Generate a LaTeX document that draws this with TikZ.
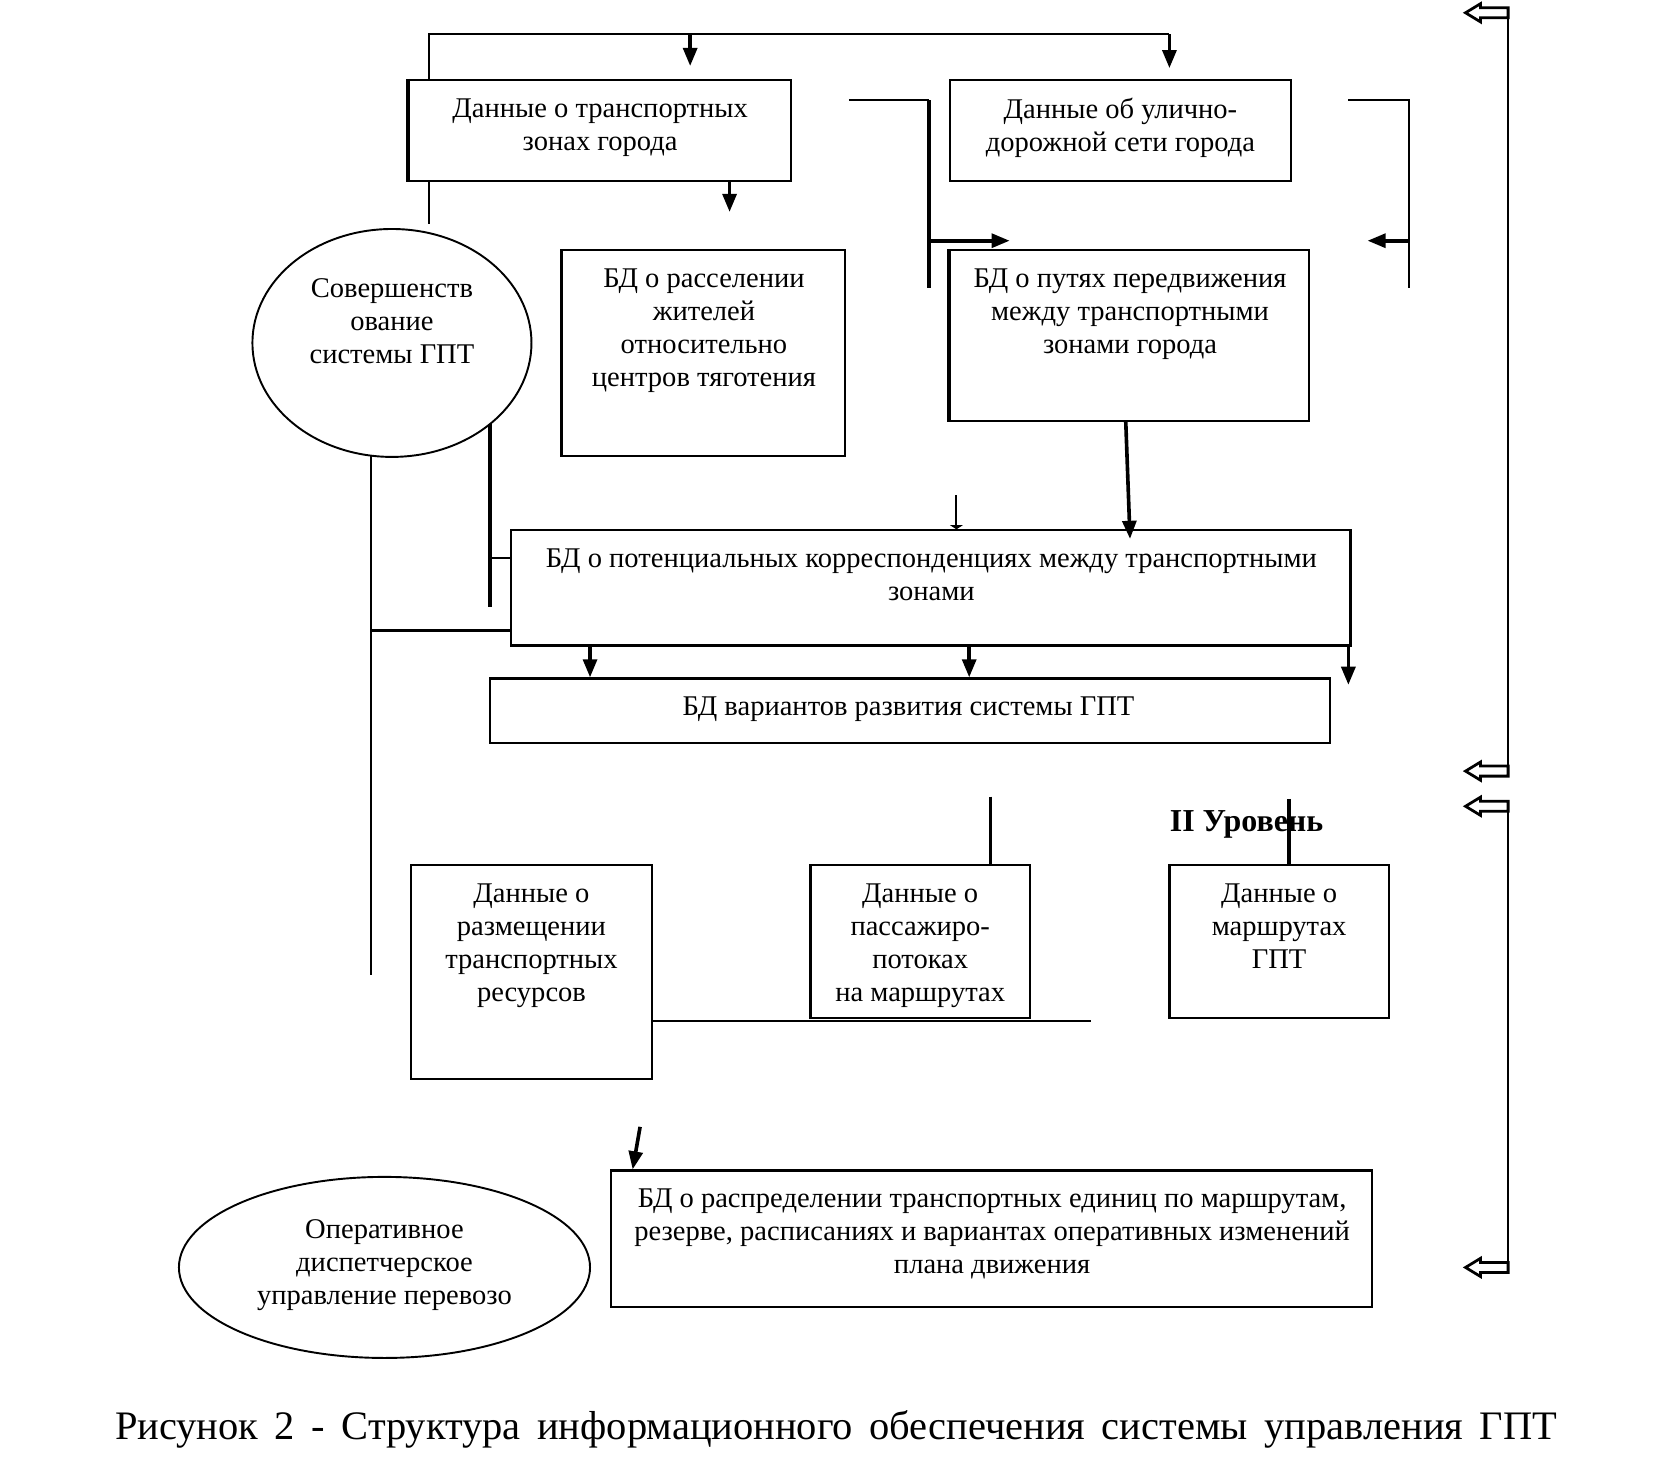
\documentclass[tikz,border=0pt]{standalone}
\usepackage{fontspec}
\setmainfont{Liberation Serif}
\usetikzlibrary{arrows.meta,shapes.geometric,calc}
\begin{document}
\begin{tikzpicture}[x=0.5pt,y=-0.5pt,
  ln/.style={line width=1pt},
  thk/.style={line width=1.7pt},
  arr/.style={line width=1.7pt,-{Triangle[length=8.5pt,width=6.5pt]}},
  boxn/.style={draw,line width=1pt,inner sep=0pt,rectangle},
  ell/.style={draw,line width=0.9pt,ellipse,inner sep=0pt},
  txt/.style={align=center,inner sep=0pt,anchor=north,font=\fontsize{13.4}{15.5}\selectfont},
  harrow/.pic={\draw[line width=1.3pt,line join=miter,fill=white]
     (0,-4.7) -- (-26,-4.7) -- (-26,-8.5) -- (-40,0) -- (-26,8.5) -- (-26,4.7) -- (0,4.7) -- cycle;}
]
\useasboundingbox (0,0) rectangle (1568,1383);

% boxes
\node[boxn,minimum width=179.5pt,minimum height=47.5pt] (b1) at (563.5,122.5) {};
\node[boxn,minimum width=160pt,minimum height=47.5pt] (b2) at (1052,122.5) {};
\node[boxn,minimum width=132.5pt,minimum height=96.5pt] (b3) at (660.5,331.5) {};
\node[boxn,minimum width=168.5pt,minimum height=80pt] (b4) at (1060.5,315) {};
\node[boxn,minimum width=394pt,minimum height=54pt] (b5) at (874,552) {};
\node[boxn,minimum width=394.5pt,minimum height=30.5pt] (b6) at (854.5,667.5) {};
\node[boxn,minimum width=113pt,minimum height=100.5pt] (b7) at (499,912.5) {};
\node[boxn,minimum width=103pt,minimum height=72pt] (b8) at (864,884) {};
\node[boxn,minimum width=103pt,minimum height=72pt] (b9) at (1201,884) {};
\node[boxn,minimum width=357pt,minimum height=64pt] (b10) at (931,1163) {};
\node[ell,minimum width=131pt,minimum height=107pt] (e1) at (368,322) {};
\node[ell,minimum width=193pt,minimum height=85pt] (e2) at (361,1190) {};

% thicker left edges
\draw[line width=1.6pt] (b1.north west) -- (b1.south west);
\draw[line width=1.6pt] (b3.north west) -- (b3.south west);
\draw[line width=1.6pt] (b4.north west) -- (b4.south west);

% texts
\node[txt] (t1) at (563.5,92) {Данные о транспортных\\зонах города};
\node[txt] (t2) at (1052,92) {Данные об улично-\\дорожной сети города};
\node[txt] (t3) at (661,252) {БД о расселении\\жителей\\относительно\\центров тяготения};
\node[txt] (t4) at (1061,252) {БД о путях передвижения\\между транспортными\\зонами города};
\node[txt] (t5) at (874.5,515) {БД о потенциальных корреспонденциях между транспортными\\зонами};
\node[txt] (t6) at (853,654) {БД вариантов развития системы ГПТ};
\node[txt] (t7) at (499,829) {Данные о\\размещении\\транспортных\\ресурсов};
\node[txt] (t8) at (864,829) {Данные о\\пассажиро-\\потоках\\на маршрутах};
\node[txt] (t9) at (1201,829) {Данные о\\маршрутах\\ГПТ};
\node[txt] (t10) at (931.5,1116) {БД о распределении транспортных единиц по маршрутам,\\резерве, расписаниях и вариантах оперативных изменений\\плана движения};
\node[txt] (te1) at (368,261) {Совершенств\\ование\\системы ГПТ};
\node[txt] (te2) at (361,1145) {Оперативное\\диспетчерское\\управление перевозо};
\node[anchor=west,inner sep=0pt,font=\bfseries\fontsize{15}{17}\selectfont] (lvl) at (1098,774) {II Уровень};
\node[inner sep=0pt,font=\fontsize{19}{22}\selectfont] (cap) at (785,1342)
  {\makebox[677pt][s]{Рисунок 2 - Структура информационного обеспечения системы управления ГПТ}};

% x positions
\foreach \xx in {348,403,460,554,648,685,872,898,910,930,1057,1098,1210,1266,1323}
  \coordinate (x\xx) at (\xx,0);
\coordinate (topR) at (1098,32);

% connectors
\draw[ln] (b1.north -| x403) |- (topR);
\draw[arr,shorten >=6pt] (x648 |- topR) -- (b1.north -| x648);
\draw[arr,shorten >=5pt] (topR) -- (b2.north -| x1098);
\draw[ln,shorten >=2pt] (b1.south -| x403) -- (e1.north -| x403);
\draw[arr] (b1.south -| x685) -- ++(0,28);

\coordinate (f1) at (797,94);
\coordinate (f2) at (872,270);
\draw[ln] (f1) -- (f1 -| f2);
\draw[thk] (f1 -| f2) -- (f2);
\coordinate (j1) at (872,226);
\coordinate (j1e) at (948,226);
\draw[arr] (j1) -- (j1e);
\coordinate (g1) at (1266,94);
\coordinate (g2) at (1323,270);
\draw[ln] (g1) -| (g2);
\coordinate (j2) at (1323,226);
\coordinate (j2e) at (1284,226);
\draw[arr] (j2) -- (j2e);

\coordinate (k1) at (460,398);
\coordinate (k2) at (460,570);
\draw[thk] (k1) -- (k2);
\draw[ln] (x460 |- 0,524) -- (b5.west |- 0,524);
\coordinate (m1) at (348,428);
\coordinate (m2) at (348,915);
\draw[ln] (m1) -- (m2);
\draw[ln] (x348 |- 0,592) -- (b5.west |- 0,592);

\coordinate (n1) at (1061,506);
\draw[arr] (b4.south -| x1057) -- (n1);
\coordinate (p1) at (898,465);
\draw[ln,-{Triangle[length=2pt,width=6pt]}] (p1) -- (b5.north -| x898);

\draw[arr] (b5.south -| x554) -- (b6.north -| x554);
\draw[arr] (b5.south -| x910) -- (b6.north -| x910);
\draw[arr] (b5.south -| x1266) -- ++(0,36);

\coordinate (q1) at (930,748);
\draw[thk] (q1) -- (b8.north -| x930);
\coordinate (q2) at (1210,750);
\draw[thk] (q2) -- (b9.north -| x1210);
\coordinate (r1) at (1024,959);
\draw[ln] (b7.east |- r1) -- (r1);
\coordinate (s1) at (601,1058);
\coordinate (s2) at (594,1098);
\draw[arr] (s1) -- (s2);

% right side feedback lines with hollow arrows
\coordinate (h1) at (1416,12);
\coordinate (h2) at (1416,724);
\coordinate (h3) at (1416,757);
\coordinate (h4) at (1416,1190);
\draw[ln] ([yshift=2.3pt]h1) -- ([yshift=2.3pt]h2);
\draw[ln] ([yshift=-2.3pt]h3) -- ([yshift=-2.3pt]h4);
\pic at (h1) {harrow};
\pic at (h2) {harrow};
\pic at (h3) {harrow};
\pic at (h4) {harrow};
\end{tikzpicture}
\end{document}
